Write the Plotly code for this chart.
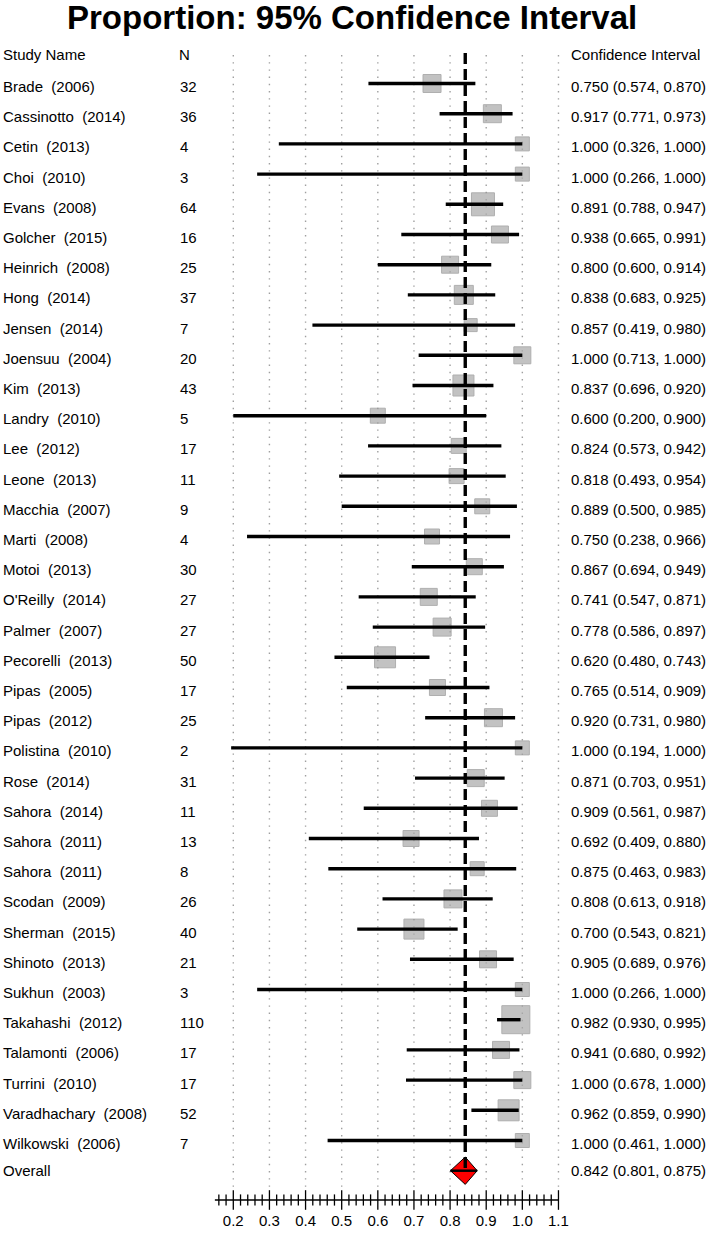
import plotly.graph_objects as go

# ---------------- data ----------------
study_names = ["Brade", "Cassinotto", "Cetin", "Choi", "Evans", "Golcher", "Heinrich", "Hong",
               "Jensen", "Joensuu", "Kim", "Landry", "Lee", "Leone", "Macchia", "Marti", "Motoi",
               "O'Reilly", "Palmer", "Pecorelli", "Pipas", "Pipas", "Polistina", "Rose", "Sahora",
               "Sahora", "Sahora", "Scodan", "Sherman", "Shinoto", "Sukhun", "Takahashi",
               "Talamonti", "Turrini", "Varadhachary", "Wilkowski"]
study_years = [2006, 2014, 2013, 2010, 2008, 2015, 2008, 2014, 2014, 2004, 2013, 2010, 2012, 2013,
               2007, 2008, 2013, 2014, 2007, 2013, 2005, 2012, 2010, 2014, 2014, 2011, 2011, 2009,
               2015, 2013, 2003, 2012, 2006, 2010, 2008, 2006]
n_values = [32, 36, 4, 3, 64, 16, 25, 37, 7, 20, 43, 5, 17, 11, 9, 4, 30, 27, 27, 50, 17, 25, 2, 31,
            11, 13, 8, 26, 40, 21, 3, 110, 17, 17, 52, 7]
estimates = [0.750, 0.917, 1.000, 1.000, 0.891, 0.938, 0.800, 0.838, 0.857, 1.000, 0.837, 0.600,
             0.824, 0.818, 0.889, 0.750, 0.867, 0.741, 0.778, 0.620, 0.765, 0.920, 1.000, 0.871,
             0.909, 0.692, 0.875, 0.808, 0.700, 0.905, 1.000, 0.982, 0.941, 1.000, 0.962, 1.000]
ci_low = [0.574, 0.771, 0.326, 0.266, 0.788, 0.665, 0.600, 0.683, 0.419, 0.713, 0.696, 0.200,
          0.573, 0.493, 0.500, 0.238, 0.694, 0.547, 0.586, 0.480, 0.514, 0.731, 0.194, 0.703,
          0.561, 0.409, 0.463, 0.613, 0.543, 0.689, 0.266, 0.930, 0.680, 0.678, 0.859, 0.461]
ci_high = [0.870, 0.973, 1.000, 1.000, 0.947, 0.991, 0.914, 0.925, 0.980, 1.000, 0.920, 0.900,
           0.942, 0.954, 0.985, 0.966, 0.949, 0.871, 0.897, 0.743, 0.909, 0.980, 1.000, 0.951,
           0.987, 0.880, 0.983, 0.918, 0.821, 0.976, 1.000, 0.995, 0.992, 1.000, 0.990, 1.000]
overall_label = "Overall"
overall_est = 0.842
overall_low = 0.801
overall_high = 0.875
major_ticks = [0.2, 0.3, 0.4, 0.5, 0.6, 0.7, 0.8, 0.9, 1.0, 1.1]
tick_labels = ["0.2", "0.3", "0.4", "0.5", "0.6", "0.7", "0.8", "0.9", "1.0", "1.1"]

# styling: weight-square sides (px) as drawn in the reference
square_px = [18, 18, 14, 14, 23, 17, 17, 19, 13, 17, 21, 15, 15, 15, 15, 15, 16, 17, 18, 21, 16,
             18, 14, 17, 16, 16, 14, 18, 20, 17, 14, 28, 17, 17, 21, 14]

# ---------------- layout geometry ----------------
W, H = 709, 1233
PX_PER_UNIT = 361.3           # horizontal pixels per 1.0 of proportion
X_AT_02 = 233.3               # pixel of 0.2
ROW0_PX, ROW_STEP = 83.5, 30.2

x_min = 0.2 - X_AT_02 / PX_PER_UNIT
x_max = x_min + W / PX_PER_UNIT


def row_at(px):
    """row coordinate of a pixel row"""
    return 1 + (px - ROW0_PX) / ROW_STEP


FONT = "Liberation Sans, Arial, sans-serif"
FS = 15

n = len(study_names)
rows = list(range(1, n + 1))
overall_row = n + 1

fig = go.Figure()

# dotted grid lines
gx, gy = [], []
for t in major_ticks:
    gx += [t, t, None]
    gy += [row_at(55), row_at(1187), None]
fig.add_trace(go.Scatter(x=gx, y=gy, mode="lines", hoverinfo="skip",
                         line=dict(color="#a0a0a0", width=1.4, dash="1.4px,5.8px")))

# weight squares
fig.add_trace(go.Scatter(x=estimates, y=rows, mode="markers", hoverinfo="skip",
                         marker=dict(symbol="square", size=square_px, color="#a9a9a9",
                                     line=dict(color="#8e8e8e", width=1))))

# confidence interval lines
lx, ly = [], []
for lo, hi, r in zip(ci_low, ci_high, rows):
    lx += [lo, hi, None]
    ly += [r, r, None]
fig.add_trace(go.Scatter(x=lx, y=ly, mode="lines", hoverinfo="skip",
                         line=dict(color="black", width=3.4)))

# overall diamond
half_h = 13.7 / ROW_STEP
fig.add_trace(go.Scatter(
    x=[overall_low, overall_est, overall_high, overall_est, overall_low],
    y=[overall_row, overall_row - half_h, overall_row, overall_row + half_h, overall_row],
    mode="lines", fill="toself", fillcolor="#ff0000", hoverinfo="skip",
    line=dict(color="black", width=1)))
fig.add_trace(go.Scatter(x=[overall_low, overall_high], y=[overall_row, overall_row],
                         mode="lines", hoverinfo="skip", line=dict(color="black", width=2.5)))

# dashed summary line
fig.add_trace(go.Scatter(x=[overall_est, overall_est], y=[row_at(53), overall_row],
                         mode="lines", hoverinfo="skip",
                         line=dict(color="black", width=3.4, dash="11px,5px")))

# axis line and ticks
axis_row = row_at(1200)
fig.add_trace(go.Scatter(x=[0.149, major_ticks[-1]], y=[axis_row, axis_row], mode="lines",
                         hoverinfo="skip", line=dict(color="black", width=1.3)))
minor = []
k = 16
while k < 110:
    if k % 10 != 0:
        minor.append(k / 100)
    k += 2
fig.add_trace(go.Scatter(x=minor, y=[axis_row] * len(minor), mode="markers", hoverinfo="skip",
                         marker=dict(symbol="line-ns", size=8,
                                     line=dict(color="black", width=1.3))))
fig.add_trace(go.Scatter(x=major_ticks, y=[axis_row] * len(major_ticks), mode="markers",
                         hoverinfo="skip",
                         marker=dict(symbol="line-ns", size=14,
                                     line=dict(color="black", width=1.3))))
fig.add_trace(go.Scatter(x=major_ticks, y=[row_at(1222)] * len(major_ticks), mode="text",
                         text=tick_labels, textposition="middle center", hoverinfo="skip",
                         textfont=dict(family=FONT, size=FS, color="black")))

# text columns
ann = []


def add_text(xpx, row, txt, shift=-3):
    ann.append(dict(x=xpx / W, xref="paper", y=row, yref="y", text=txt, showarrow=False,
                    xanchor="left", yanchor="middle", yshift=shift, borderpad=0,
                    font=dict(family=FONT, size=FS, color="black")))


add_text(2, 0, "Study Name", -1)
add_text(178, 0, "N", -1)
add_text(570, 0, "Confidence Interval", -1)
for i in range(n):
    r = rows[i]
    add_text(2, r, f"{study_names[i]} \u00a0({study_years[i]})")
    add_text(179, r, str(n_values[i]))
    add_text(570, r, f"{estimates[i]:.3f} ({ci_low[i]:.3f}, {ci_high[i]:.3f})")
add_text(2, overall_row, overall_label, 0)
add_text(570, overall_row, f"{overall_est:.3f} ({overall_low:.3f}, {overall_high:.3f})", 0)

ann.append(dict(x=352 / W, xref="paper", y=1 - 18 / H, yref="paper",
                text="<b>Proportion: 95% Confidence Interval</b>", showarrow=False,
                xanchor="center", yanchor="middle", borderpad=0,
                font=dict(family=FONT, size=33, color="black")))

fig.update_layout(
    width=W, height=H, margin=dict(l=0, r=0, t=0, b=0),
    paper_bgcolor="white", plot_bgcolor="white", showlegend=False,
    annotations=ann,
    xaxis=dict(range=[x_min, x_max], visible=False, fixedrange=True),
    yaxis=dict(range=[row_at(H), row_at(0)], visible=False, fixedrange=True),
)

fig.write_html("out.html", config={"displayModeBar": False},
               post_script="document.body.style.margin='0px';")
